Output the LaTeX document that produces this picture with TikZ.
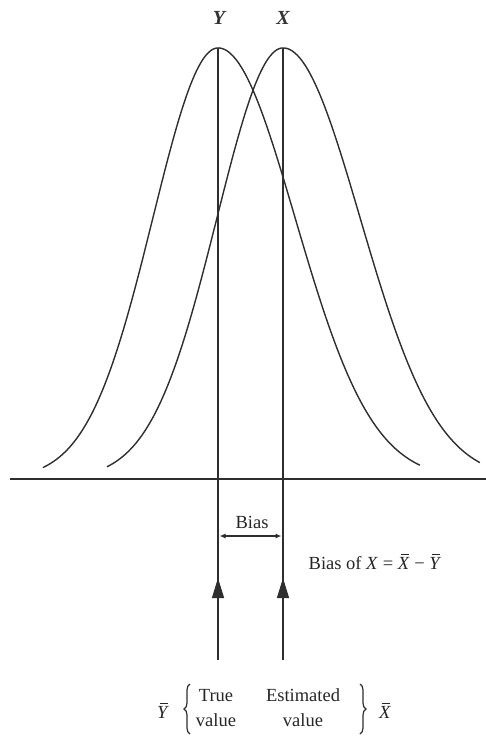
\documentclass[tikz,border=0pt]{standalone}
\usepackage{fontspec}
\setmainfont{Liberation Serif}
\usetikzlibrary{arrows.meta,decorations.pathreplacing}
\newcommand{\mybar}[1]{\leavevmode\rlap{\hspace{2.8pt}\rule[14.6pt]{8.2pt}{0.8pt}}\textit{#1}}
\begin{document}
\begin{tikzpicture}[x=1pt,y=-1pt,
  ink/.style={color=black!82},
  curve/.style={ink, line width=1.4pt},
  vline/.style={ink, line width=1.3pt},
  axisline/.style={ink, line width=1.8pt},
  txt/.style={inner sep=0pt, font=\fontsize{18.5}{25}\selectfont, text=black!85},
  toplab/.style={inner sep=0pt, font=\fontsize{20}{22}\selectfont\bfseries\itshape, text=black!80},
  headtip/.style={ink, -{Triangle[length=20pt,width=12pt]}, line width=1.3pt},
  biasarrow/.style={ink, line width=1.1pt, {Latex[length=6pt,width=5pt]}-{Latex[length=6pt,width=5pt]}},
  bracepath/.style={ink, line width=1.2pt, decorate, decoration={brace, amplitude=6pt}}
]
\useasboundingbox (0,0) rectangle (486,736);

% axis
\coordinate (axL) at (10,479);
\coordinate (axR) at (486,479);
\draw[axisline] (axL) -- (axR);

% bell curves (slightly skewed)
\draw[curve] plot[domain=-1.75:2.02, samples=140, smooth]
  ({218+100*\x}, {479-431*exp(-(\x)^2/((\x<0) ? 0.845 : 1.186))});
\draw[curve] plot[domain=-1.76:1.97, samples=140, smooth]
  ({283+100*\x}, {479-431*exp(-(\x)^2/((\x<0) ? 0.87 : 1.186))});

% vertical lines
\coordinate (Ytop) at (218,48);
\coordinate (Ybot) at (218,660);
\coordinate (Xtop) at (283,48);
\coordinate (Xbot) at (283,660);
\draw[vline] (Ytop) -- (Ybot);
\draw[vline] (Xtop) -- (Xbot);

% arrowheads on the lines
\coordinate (Yh0) at (218,600);
\coordinate (Yh1) at (218,578);
\coordinate (Xh0) at (283,600);
\coordinate (Xh1) at (283,578);
\draw[headtip] (Yh0) -- (Yh1);
\draw[headtip] (Xh0) -- (Xh1);

% top labels
\node[toplab] (labY) at (219,18) {Y};
\node[toplab] (labX) at (283,18) {X};

% bias
\node[txt] (bias) at (252,522) {Bias};
\coordinate (bL) at (219.5,536);
\coordinate (bR) at (281.5,536);
\draw[biasarrow] (bL) -- (bR);
\node[txt] (biasof) at (375,562) {Bias of \textit{X} = \mybar{X} − \mybar{Y}};

% bottom labels
\node[txt] (ybar) at (163,711) {\mybar{Y}};
\coordinate (lb0) at (190,734);
\coordinate (lb1) at (190,684);
\draw[bracepath] (lb0) -- (lb1);
\node[txt, align=center] (trueval) at (216,708) {True\\value};
\node[txt, align=center] (estval) at (303,708) {Estimated\\value};
\coordinate (rb0) at (360,684);
\coordinate (rb1) at (360,734);
\draw[bracepath] (rb0) -- (rb1);
\node[txt] (xbar) at (385,711) {\mybar{X}};
\end{tikzpicture}
\end{document}
